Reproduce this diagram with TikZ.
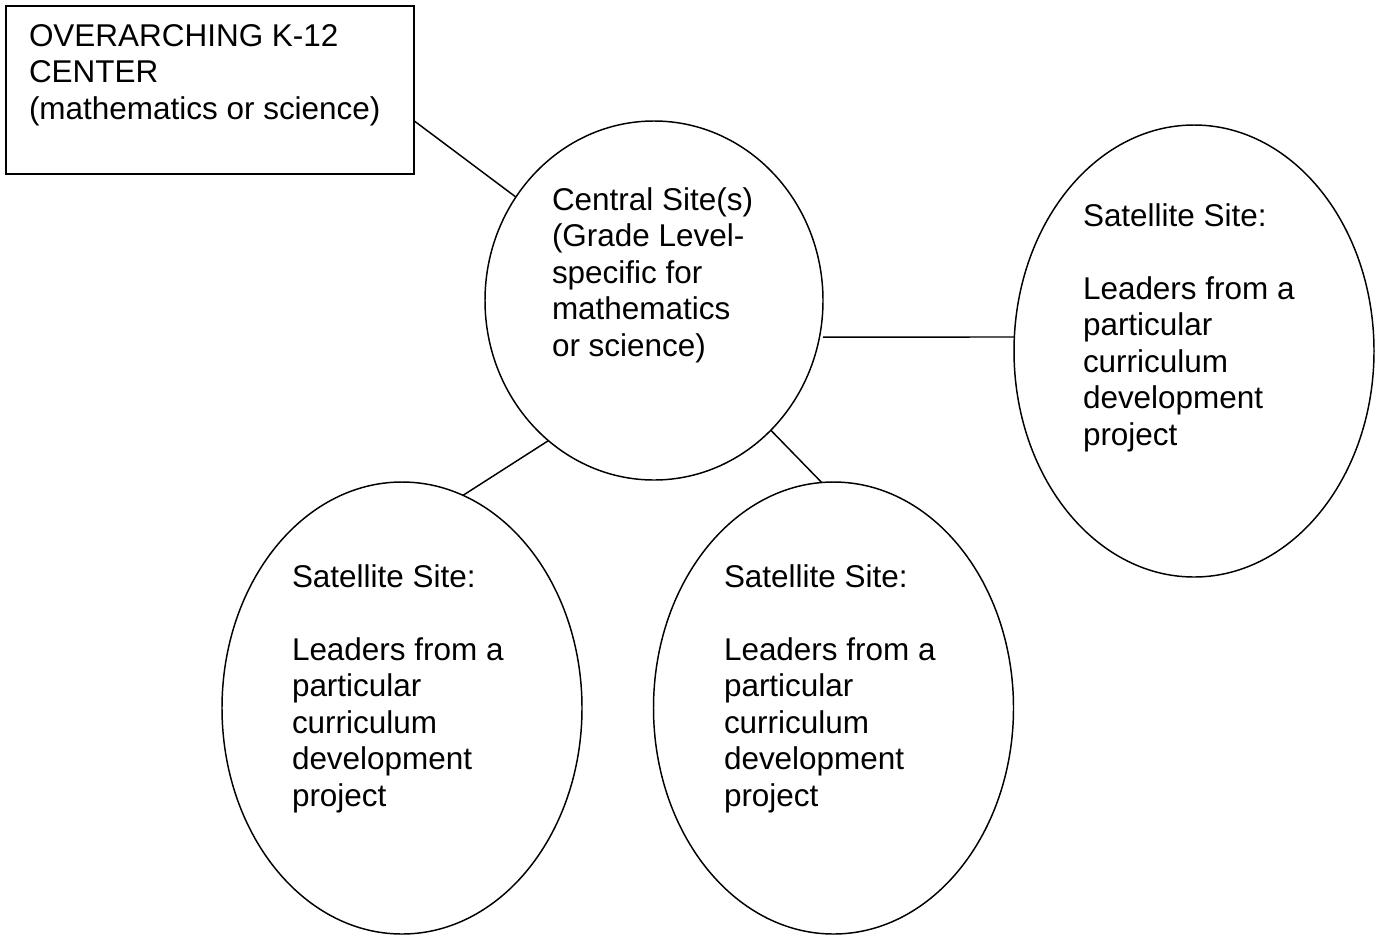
\documentclass[tikz,border=0pt]{standalone}
\usepackage{fontspec}
\setmainfont{Liberation Sans}
\usetikzlibrary{shapes.geometric,calc}
\begin{document}
\begin{tikzpicture}[x=0.75pt,y=-0.75pt,
  boxnode/.style={draw=black,line width=1.3pt,rectangle,inner sep=0pt,outer sep=0pt},
  sitenode/.style={draw=black,line width=1.1pt,ellipse,inner sep=0pt,outer sep=0pt},
  satnode/.style={sitenode,minimum width={360*0.75pt},minimum height={452*0.75pt}},
  txt/.style={anchor=base west,inner sep=0pt,outer sep=0pt,font=\fontsize{23.6pt}{27.4pt}\selectfont},
  connector/.style={draw=black,line width=1.1pt}]
\useasboundingbox (0,0) rectangle (1377,936);
% shapes
\node[boxnode,minimum width={408*0.75pt},minimum height={168*0.75pt}] (box) at (210,90) {};
\node[sitenode,minimum width={338*0.75pt},minimum height={359*0.75pt}] (cen) at (654,300.5) {};
\node[satnode] (sat1) at (1194,351) {};
\node[satnode] (sat2) at (402,708) {};
\node[satnode] (sat3) at (833.5,708) {};
% texts
\node[txt] (boxtext) at (29,46) {\begin{tabular}[t]{@{}l@{}}OVERARCHING K-12\\CENTER\\(mathematics or science)\end{tabular}};
\node[txt] (centext) at (552,210) {\begin{tabular}[t]{@{}l@{}}Central Site(s)\\(Grade Level-\\specific for\\mathematics\\or science)\end{tabular}};
\node[txt] (sat1text) at (1083,226) {\begin{tabular}[t]{@{}l@{}}Satellite Site:\\ \\Leaders from a\\particular\\curriculum\\development\\project\end{tabular}};
\node[txt] (sat2text) at (292,587) {\begin{tabular}[t]{@{}l@{}}Satellite Site:\\ \\Leaders from a\\particular\\curriculum\\development\\project\end{tabular}};
\node[txt] (sat3text) at (724,587) {\begin{tabular}[t]{@{}l@{}}Satellite Site:\\ \\Leaders from a\\particular\\curriculum\\development\\project\end{tabular}};
% connectors
\draw[connector] ($(box.south east)!0.317!(box.north east)$) -- (cen);
\draw[connector] ([yshift=-27.4pt]cen.east) -- ([yshift=10.5pt]sat1.west);
\draw[connector] (cen.233) -- (sat2.74);
\draw[connector] (cen.312) -- (sat3.93);
\end{tikzpicture}
\end{document}
